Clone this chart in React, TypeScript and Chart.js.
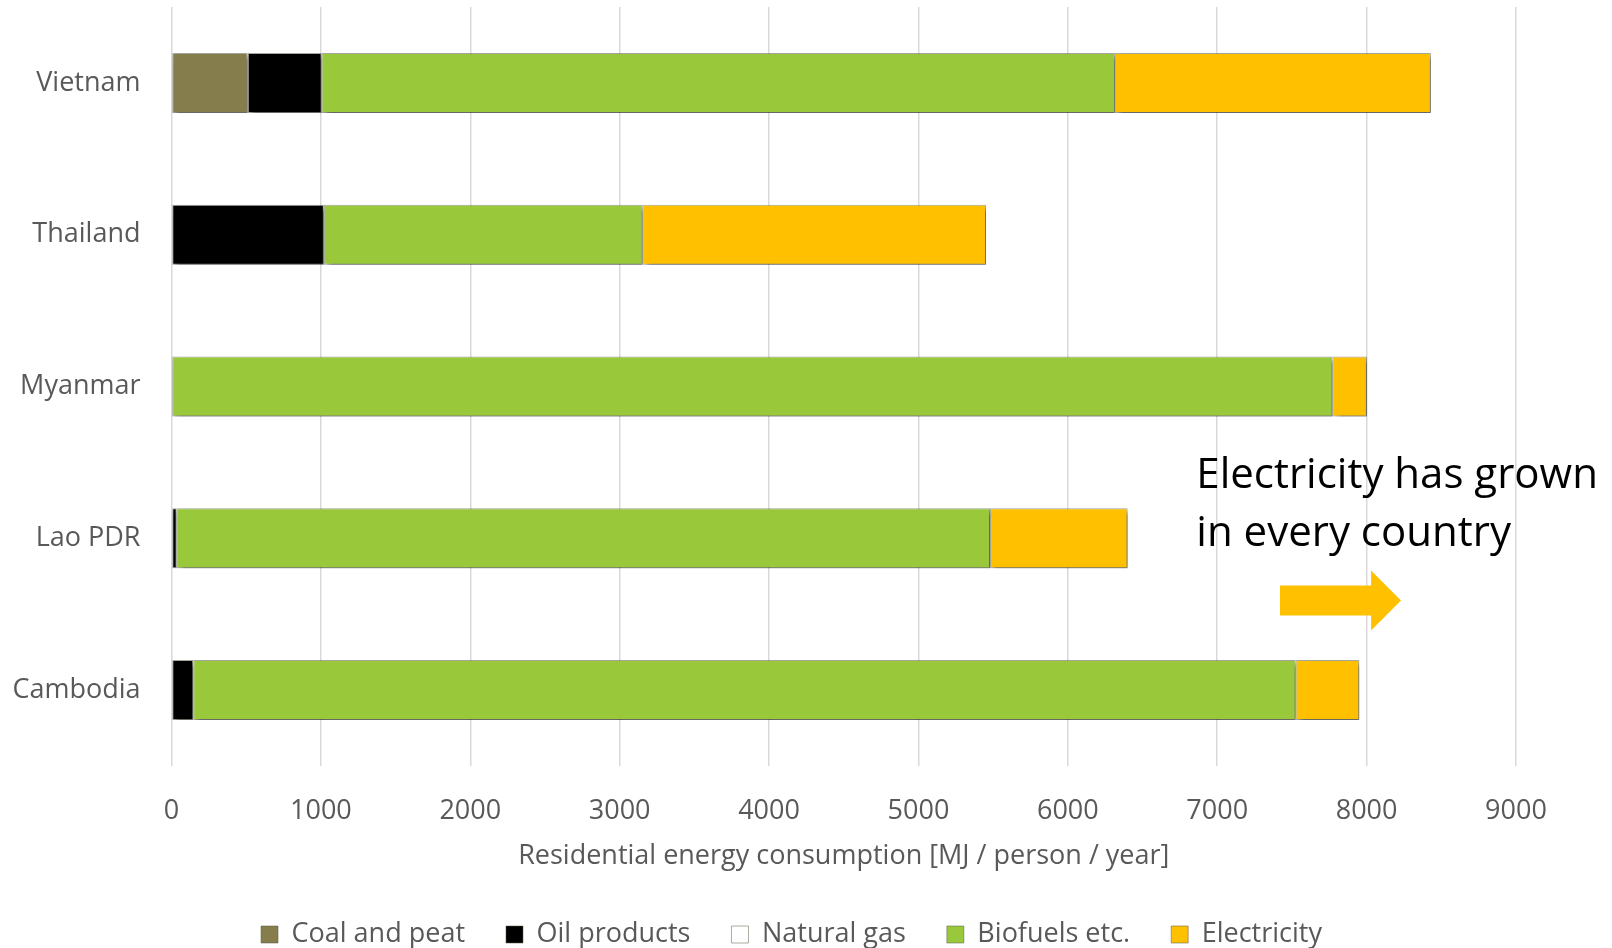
import React, { useEffect, useRef } from "react";
import { Chart, registerables } from "chart.js";

Chart.register(...registerables);
Chart.defaults.font.family = "'Open Sans', sans-serif";

// Residential energy consumption by source, MJ per person per year
const countries = ["Vietnam", "Thailand", "Myanmar", "Lao PDR", "Cambodia"];
const coalAndPeat = [510, 0, 0, 0, 0];
const oilProducts = [495, 1020, 0, 35, 146];
const naturalGas = [0, 0, 0, 0, 0];
const biofuels = [5310, 2134, 7772, 5444, 7379];
const electricity = [2115, 2298, 230, 921, 426];

const seriesNames = ["Coal and peat", "Oil products", "Natural gas", "Biofuels etc.", "Electricity"];
const seriesColors = ["#857D4B", "#000000", "#FFFFFF", "#99C93B", "#FFC000"];

const xMin = 0;
const xMax = 9000;
const xStep = 1000;

const axisTitle = "Residential energy consumption [MJ / person / year]";
const noteLines = ["Electricity has grown", "in every country"];

const CANVAS_W = 1612;
const CANVAS_H = 948;
const PLOT_BOTTOM = 766;
const Y_AXIS_W = 171.5;
const PAD = { left: 0, right: 96, top: 7, bottom: -10 };
const LEGEND_SPAN_LEFT = 67;
const TEXT_GREY = "#595959";

// soft drop shadow under the stacked bars
const barShadow = {
  id: "barShadow",
  beforeDatasetsDraw(chart: any) {
    const ctx = chart.ctx;
    ctx.save();
    ctx.shadowColor = "rgba(0,0,0,0.5)";
    ctx.shadowBlur = 5;
    ctx.shadowOffsetX = 3;
    ctx.shadowOffsetY = 3;
  },
  afterDatasetsDraw(chart: any) {
    chart.ctx.restore();
  },
};

// centre the legend row on a span that starts left of the plot
const legendSpan = {
  id: "legendSpan",
  afterLayout(chart: any) {
    const lg = chart.legend;
    if (!lg) return;
    lg.left = LEGEND_SPAN_LEFT;
    lg.right = chart.chartArea.right;
  },
};

// callout text with a block arrow pointing right
const calloutNote = {
  id: "calloutNote",
  afterDraw(chart: any) {
    const { ctx, scales } = chart;
    const x = scales.x;
    const y = scales.y;
    const textX = x.getPixelForValue(6860);
    const base1 = y.getPixelForValue(2) + 101;
    ctx.save();
    ctx.fillStyle = "#000000";
    ctx.font = "42px 'Open Sans', sans-serif";
    ctx.textAlign = "left";
    ctx.textBaseline = "alphabetic";
    noteLines.forEach((line, i) => ctx.fillText(line, textX, base1 + i * 58));

    const x0 = x.getPixelForValue(7420);
    const xNeck = x.getPixelForValue(8030);
    const xTip = x.getPixelForValue(8230);
    const cy = base1 + 113;
    ctx.fillStyle = "#FFC000";
    ctx.beginPath();
    ctx.moveTo(x0, cy - 15);
    ctx.lineTo(xNeck, cy - 15);
    ctx.lineTo(xNeck, cy - 30);
    ctx.lineTo(xTip, cy);
    ctx.lineTo(xNeck, cy + 30);
    ctx.lineTo(xNeck, cy + 15);
    ctx.lineTo(x0, cy + 15);
    ctx.closePath();
    ctx.fill();
    ctx.restore();
  },
};

export default function App() {
  const canvasRef = useRef<HTMLCanvasElement | null>(null);

  useEffect(() => {
    if (!canvasRef.current) return;
    const seriesValues = [coalAndPeat, oilProducts, naturalGas, biofuels, electricity];
    const chart = new Chart(canvasRef.current, {
      type: "bar",
      data: {
        labels: countries,
        datasets: seriesNames.map((name, i) => ({
          label: name,
          data: seriesValues[i],
          backgroundColor: seriesColors[i],
          borderColor: "rgba(90,90,70,0.5)",
          borderWidth: 1,
          borderSkipped: false,
          categoryPercentage: 1,
          barPercentage: 0.395,
        })),
      },
      options: {
        indexAxis: "y",
        responsive: false,
        animation: false,
        devicePixelRatio: 1,
        layout: { padding: PAD },
        plugins: {
          tooltip: { enabled: false },
          legend: {
            position: "bottom",
            labels: {
              boxWidth: 17,
              boxHeight: 17,
              padding: 41,
              color: TEXT_GREY,
              font: { size: 27 },
            },
          },
        },
        scales: {
          x: {
            stacked: true,
            min: xMin,
            max: xMax,
            ticks: {
              stepSize: xStep,
              padding: 29,
              color: TEXT_GREY,
              font: { size: 27 },
              callback: (v: any) => String(v),
            },
            grid: { color: "#D9D9D9", lineWidth: 1.5, drawTicks: false },
            border: { display: false },
            title: {
              display: true,
              text: axisTitle,
              color: TEXT_GREY,
              font: { size: 27 },
              padding: { top: 0, bottom: 7 },
            },
            afterFit(scale: any) {
              const legendH = scale.chart.legend ? scale.chart.legend.height : 0;
              scale.height = CANVAS_H - PAD.bottom - legendH - PLOT_BOTTOM;
            },
          },
          y: {
            stacked: true,
            ticks: { padding: 31, color: TEXT_GREY, font: { size: 27 } },
            grid: { display: false, drawTicks: false },
            border: { display: false },
            afterFit(scale: any) {
              scale.width = Y_AXIS_W;
              scale.paddingTop = 0;
              scale.paddingBottom = 0;
            },
          },
        },
      },
      plugins: [barShadow, legendSpan, calloutNote],
    });
    return () => chart.destroy();
  }, []);

  return (
    <div style={{ position: "fixed", left: 0, top: 0, width: CANVAS_W, height: CANVAS_H, background: "#FFFFFF" }}>
      <canvas ref={canvasRef} width={CANVAS_W} height={CANVAS_H} />
    </div>
  );
}
